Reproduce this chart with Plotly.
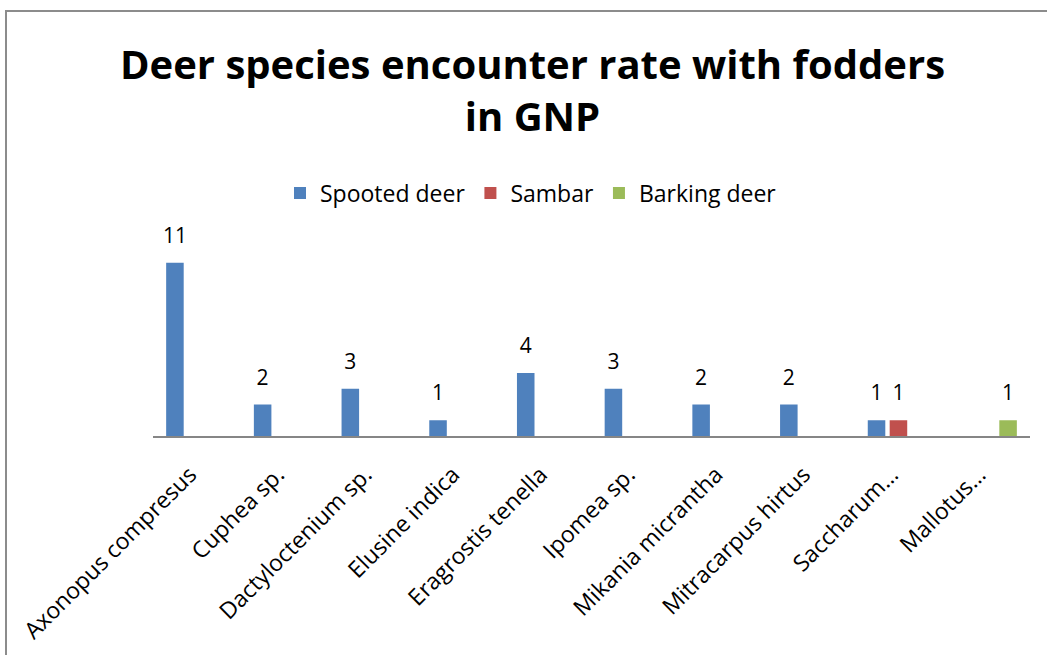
import plotly.graph_objects as go

# fodder species (x categories)
fodders = ['Axonopus compresus', 'Cuphea sp.', 'Dactyloctenium sp.', 'Elusine indica',
           'Eragrostis tenella', 'Ipomea sp.', 'Mikania micrantha', 'Mitracarpus hirtus',
           'Saccharum…', 'Mallotus…']

# encounter counts per deer species
spotted_deer = [11, 2, 3, 1, 4, 3, 2, 2, 1, None]
sambar = [None, None, None, None, None, None, None, None, 1, None]
barking_deer = [None, None, None, None, None, None, None, None, None, 1]

series = [
    ('Spooted deer', spotted_deer, '#4F81BD'),
    ('Sambar', sambar, '#C0504D'),
    ('Barking deer', barking_deer, '#9BBB59'),
]

FONT = 'Open Sans'
GAP = 0.25

fig = go.Figure()
for name, vals, color in series:
    fig.add_trace(go.Bar(
        name=name,
        x=fodders,
        y=vals,
        marker=dict(color=color, line=dict(width=0)),
        cliponaxis=False
    ))

# data labels: grouped text-only scatter so they sit a bit higher above the bars
for name, vals, color in series:
    fig.add_trace(go.Scatter(
        x=fodders,
        y=vals,
        mode='markers+text',
        text=vals,
        textposition='top center',
        textfont=dict(size=21, color='#000000', family=FONT),
        marker=dict(size=22, opacity=0),
        showlegend=False,
        hoverinfo='skip',
        cliponaxis=False
    ))

# plot area in pixels
W, H = 1047, 655
L, R, T, B = 153, 17, 247, 219
pw, ph = W - L - R, H - T - B

# chart border: only top and left edges fall inside the picture
fig.add_shape(type='rect', xref='paper', yref='paper',
              x0=(6 - L) / pw, x1=(W + 20 - L) / pw,
              y0=-(B + 20) / ph, y1=(T - 11) / ph + 1,
              line=dict(color='#8C8C8C', width=2), layer='below')

fig.update_layout(
    width=W,
    height=H,
    title=dict(
        text='<b>Deer species encounter rate with fodders<br>in GNP</b>',
        x=0.5086, xanchor='center', y=1 - 79 / H, yanchor='middle',
        font=dict(family=FONT, size=40, color='#000000')
    ),
    barmode='group',
    bargap=GAP,
    bargroupgap=0.2,
    scattermode='group',
    scattergap=GAP,
    showlegend=True,
    legend=dict(orientation='h', x=(531 - L) / pw, xanchor='center',
                y=1 + (436 - 193 - ph) / ph, yanchor='middle',
                font=dict(family=FONT, size=23, color='#000000'),
                traceorder='normal'),
    margin=dict(l=L, r=R, t=T, b=B, autoexpand=False),
    plot_bgcolor='white',
    paper_bgcolor='white',
    xaxis=dict(showline=True, linecolor='#868686', linewidth=2, ticks='',
               tickangle=-45, automargin=False,
               ticklabelstandoff=14, ticklabelshift=-7,
               tickfont=dict(family=FONT, size=23, color='#000000'),
               showgrid=False),
    yaxis=dict(range=[0, 12], visible=False, showgrid=False, automargin=False)
)

fig.write_html('out.html', config={'displayModeBar': False},
               post_script="document.body.style.margin='0';")
